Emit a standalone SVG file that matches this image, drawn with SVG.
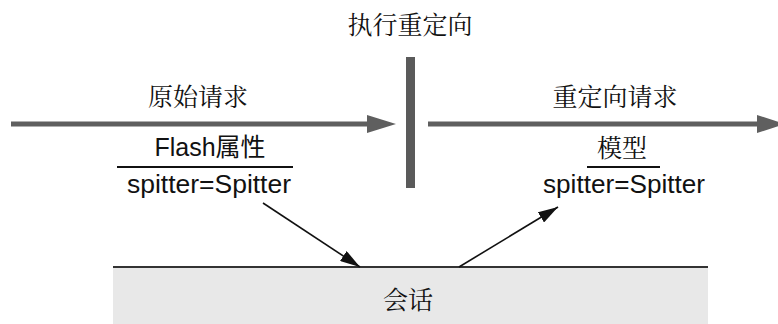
<svg xmlns="http://www.w3.org/2000/svg" width="778" height="324" viewBox="0 0 778 324">
<defs>
<style>
.cjk{font-family:"Noto Serif CJK SC","Noto Sans CJK SC",serif;font-size:25px;fill:#111;text-anchor:middle}
.lat{font-family:"Liberation Sans","Noto Sans CJK SC",sans-serif;font-size:25px;fill:#111;text-anchor:middle}
.big{stroke:#5f5f5f;stroke-width:5;fill:none}
.thin{stroke:#111;stroke-width:1.6;fill:none}
.rule{stroke:#111;stroke-width:2}
</style>
<marker id="ah" viewBox="0 0 20 12" refX="20" refY="6" markerWidth="20" markerHeight="12" markerUnits="userSpaceOnUse" orient="auto">
<path d="M0,0 L20,6 L0,12 z" fill="#111"/>
</marker>
</defs>
<rect width="778" height="324" fill="#fff"/>

<g id="session">
<rect x="113" y="267" width="595" height="57" fill="#e8e8e8"/>
<line x1="113" y1="267" x2="708" y2="267" stroke="#333" stroke-width="2"/>
<text class="cjk" x="408" y="309">会话</text>
</g>

<g id="redirect">
<text class="cjk" x="410" y="34">执行重定向</text>
<rect x="406" y="57" width="9" height="131" fill="#5a5a5a"/>
</g>

<g id="original">
<text class="cjk" x="198" y="106">原始请求</text>
<text class="lat" x="210" y="156">Flash属性</text>
<line class="rule" x1="117" y1="167" x2="293" y2="167"/>
<text class="lat" x="209" y="193" textLength="164" lengthAdjust="spacingAndGlyphs">spitter=Spitter</text>
</g>

<g id="redirected">
<text class="cjk" x="615" y="106">重定向请求</text>
<text class="cjk" x="622" y="157">模型</text>
<line class="rule" x1="587" y1="167" x2="660" y2="167"/>
<text class="lat" x="624" y="193" textLength="162" lengthAdjust="spacingAndGlyphs">spitter=Spitter</text>
</g>

<g id="connectors">
<line class="big" x1="11" y1="124" x2="370" y2="124"/>
<polygon points="367,115 396,124 367,133" fill="#5f5f5f"/>
<line class="big" x1="428" y1="124" x2="760" y2="124"/>
<polygon points="757,115 785,124 757,133" fill="#5f5f5f"/>
<line class="thin" x1="263" y1="203" x2="360" y2="267" marker-end="url(#ah)"/>
<line class="thin" x1="459" y1="267" x2="558" y2="207" marker-end="url(#ah)"/>
</g>
</svg>
